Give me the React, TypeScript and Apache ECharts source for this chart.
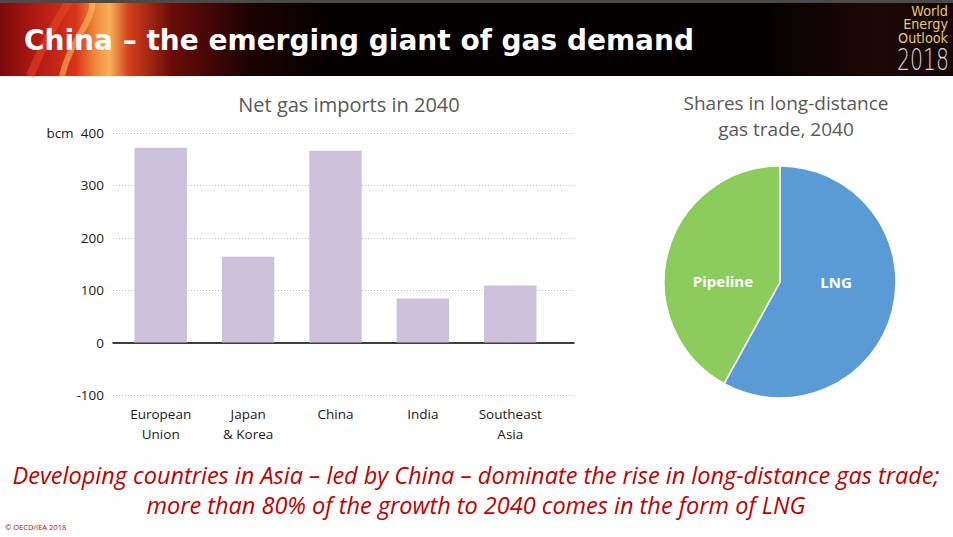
import React, { useEffect, useRef } from "react";
import * as echarts from "echarts";

const categories = ["European\nUnion", "Japan\n& Korea", "China", "India", "Southeast\nAsia"];
const netImports = [372, 164, 366, 84, 109];
const yMin = -100;
const yMax = 400;
const yInterval = 100;
const shareNames = ["LNG", "Pipeline"];
const shareValues = [58, 42];

const titleText = "China – the emerging giant of gas demand";
const barTitle = "Net gas imports in 2040";
const pieTitleLines = ["Shares in long-distance", "gas trade, 2040"];
const logoWords = ["World", "Energy", "Outlook"];
const logoYear = "2018";
const noteLine1 = "Developing countries in Asia – led by China – dominate the rise in long-distance gas trade;";
const noteLine2 = "more than 80% of the growth to 2040 comes in the form of LNG";

const FONT = "'Open Sans', 'Noto Sans', sans-serif";

export default function App() {
  const ref = useRef<HTMLDivElement>(null);
  useEffect(() => {
    if (!ref.current) return;
    const chart = echarts.init(ref.current, undefined, { renderer: "svg" });
    const pieColors = ["#5b9bd5", "#8ccc5c"];
    chart.setOption({
      animation: false,
      backgroundColor: "#ffffff",
      textStyle: { fontFamily: FONT },
      grid: [
        { left: 113, width: 461, top: 133, height: 262 },
        { left: 117, width: 437, top: 133, height: 262 },
      ],
      xAxis: [
        {
          gridIndex: 0,
          type: "category",
          data: [""],
          axisLine: { show: true, onZero: true, lineStyle: { color: "#000", width: 1.5 } },
          axisTick: { show: false },
          axisLabel: { show: false },
        },
        {
          gridIndex: 1,
          type: "category",
          data: categories,
          axisLine: { show: false },
          axisTick: { show: false },
          axisLabel: {
            show: true,
            color: "#1a1a1a",
            fontSize: 13.5,
            lineHeight: 20,
            margin: 9,
            interval: 0,
            fontFamily: FONT,
          },
          position: "bottom",
        },
      ],
      yAxis: [
        {
          gridIndex: 0,
          type: "value",
          min: yMin,
          max: yMax,
          interval: yInterval,
          axisLine: { show: false },
          axisTick: { show: false },
          axisLabel: { color: "#1a1a1a", fontSize: 13.5, margin: 9, fontFamily: FONT },
          splitLine: { show: true, lineStyle: { color: "#bfbfbf", type: [1, 2], width: 1 } },
        },
        {
          gridIndex: 1,
          type: "value",
          min: yMin,
          max: yMax,
          interval: yInterval,
          show: false,
          splitLine: { show: false },
        },
      ],
      series: [
        {
          type: "bar",
          xAxisIndex: 1,
          yAxisIndex: 1,
          data: netImports,
          barWidth: "60%",
          itemStyle: { color: "#ccc1da" },
          z: 1,
        },
        {
          type: "pie",
          center: [780, 282],
          radius: 116,
          startAngle: 90,
          clockwise: true,
          data: shareNames.map((n, i) => ({
            name: n,
            value: shareValues[i],
            itemStyle: { color: pieColors[i] },
            label: { offset: i === 0 ? [-3, -15] : [2, 14] },
          })),
          itemStyle: { borderColor: "#ffffff", borderWidth: 1.5 },
          label: {
            show: true,
            position: "inside",
            formatter: "{b}",
            color: "#ffffff",
            fontSize: 15,
            fontWeight: "bold",
            fontFamily: FONT,
          },
          labelLine: { show: false },
          emphasis: { disabled: true },
        },
      ],
      graphic: [
        {
          type: "rect",
          shape: { x: 0, y: 0, width: 953, height: 76 },
          style: {
            fill: new echarts.graphic.LinearGradient(0, 0, 1, 0, [
              { offset: 0, color: "#7a0a0c" },
              { offset: 0.04, color: "#b41a14" },
              { offset: 0.08, color: "#d8361a" },
              { offset: 0.1, color: "#f08a3a" },
              { offset: 0.115, color: "#f7b25a" },
              { offset: 0.135, color: "#d4401c" },
              { offset: 0.18, color: "#6a0c08" },
              { offset: 0.26, color: "#1c0302" },
              { offset: 0.34, color: "#050000" },
              { offset: 0.8, color: "#040000" },
              { offset: 0.92, color: "#1e0807" },
              { offset: 1, color: "#140606" },
            ]),
          },
          silent: true,
        },
        {
          type: "bezierCurve",
          shape: { x1: 62, y1: 76, x2: 92, y2: 0, cpx1: 70, cpy1: 40, cpx2: 95, cpy2: 20 },
          style: { stroke: "rgba(255,200,110,0.55)", lineWidth: 6, fill: null },
          silent: true,
        },
        {
          type: "bezierCurve",
          shape: { x1: 30, y1: 76, x2: 70, y2: 0, cpx1: 45, cpy1: 40, cpx2: 60, cpy2: 15 },
          style: { stroke: "rgba(240,80,40,0.45)", lineWidth: 8, fill: null },
          silent: true,
        },
        {
          type: "rect",
          shape: { x: 0, y: 0, width: 953, height: 3 },
          style: { fill: "#4a4a4a" },
          silent: true,
        },
        {
          type: "text",
          x: 24,
          y: 40,
          style: {
            text: titleText,
            fill: "#ffffff",
            font: "bold 28px 'DejaVu Sans', sans-serif",
            textVerticalAlign: "middle",
          },
          silent: true,
        },
        ...logoWords.map((w, i) => ({
          type: "text",
          x: 948,
          y: 11 + i * 13.5,
          scaleX: 0.95,
          originX: 0,
          style: {
            text: w,
            fill: "#e8c870",
            font: "13.5px 'DejaVu Sans', sans-serif",
            textAlign: "right",
            textVerticalAlign: "middle",
          },
          silent: true,
        })),
        {
          type: "text",
          x: 949,
          y: 59,
          scaleX: 0.66,
          originX: 0,
          style: {
            text: logoYear,
            fill: "#d9d4d0",
            font: "200 31px 'DejaVu Sans', sans-serif",
            textAlign: "right",
            textVerticalAlign: "middle",
          },
          silent: true,
        },
        {
          type: "text",
          x: 349,
          y: 104,
          style: {
            text: barTitle,
            fill: "#595959",
            font: `20px ${FONT}`,
            textAlign: "center",
            textVerticalAlign: "middle",
          },
          silent: true,
        },
        ...pieTitleLines.map((t, i) => ({
          type: "text",
          x: 786,
          y: 103 + i * 26,
          style: {
            text: t,
            fill: "#595959",
            font: `19px ${FONT}`,
            textAlign: "center",
            textVerticalAlign: "middle",
          },
          silent: true,
        })),
        {
          type: "text",
          x: 60,
          y: 133,
          style: {
            text: "bcm",
            fill: "#1a1a1a",
            font: `13.5px ${FONT}`,
            textAlign: "center",
            textVerticalAlign: "middle",
          },
          silent: true,
        },
        {
          type: "text",
          x: 476,
          y: 475,
          style: {
            text: noteLine1,
            fill: "#c00000",
            font: `italic 23.5px ${FONT}`,
            textAlign: "center",
            textVerticalAlign: "middle",
          },
          silent: true,
        },
        {
          type: "text",
          x: 476,
          y: 505,
          style: {
            text: noteLine2,
            fill: "#c00000",
            font: `italic 23.5px ${FONT}`,
            textAlign: "center",
            textVerticalAlign: "middle",
          },
          silent: true,
        },
        {
          type: "text",
          x: 5,
          y: 527,
          style: {
            text: "© OECD/IEA 2018",
            fill: "#a01020",
            font: `7.5px ${FONT}`,
            textVerticalAlign: "middle",
          },
          silent: true,
        },
      ],
    });
    return () => chart.dispose();
  }, []);
  return (
    <div
      ref={ref}
      style={{ position: "fixed", left: 0, top: 0, width: 953, height: 537 }}
    />
  );
}
